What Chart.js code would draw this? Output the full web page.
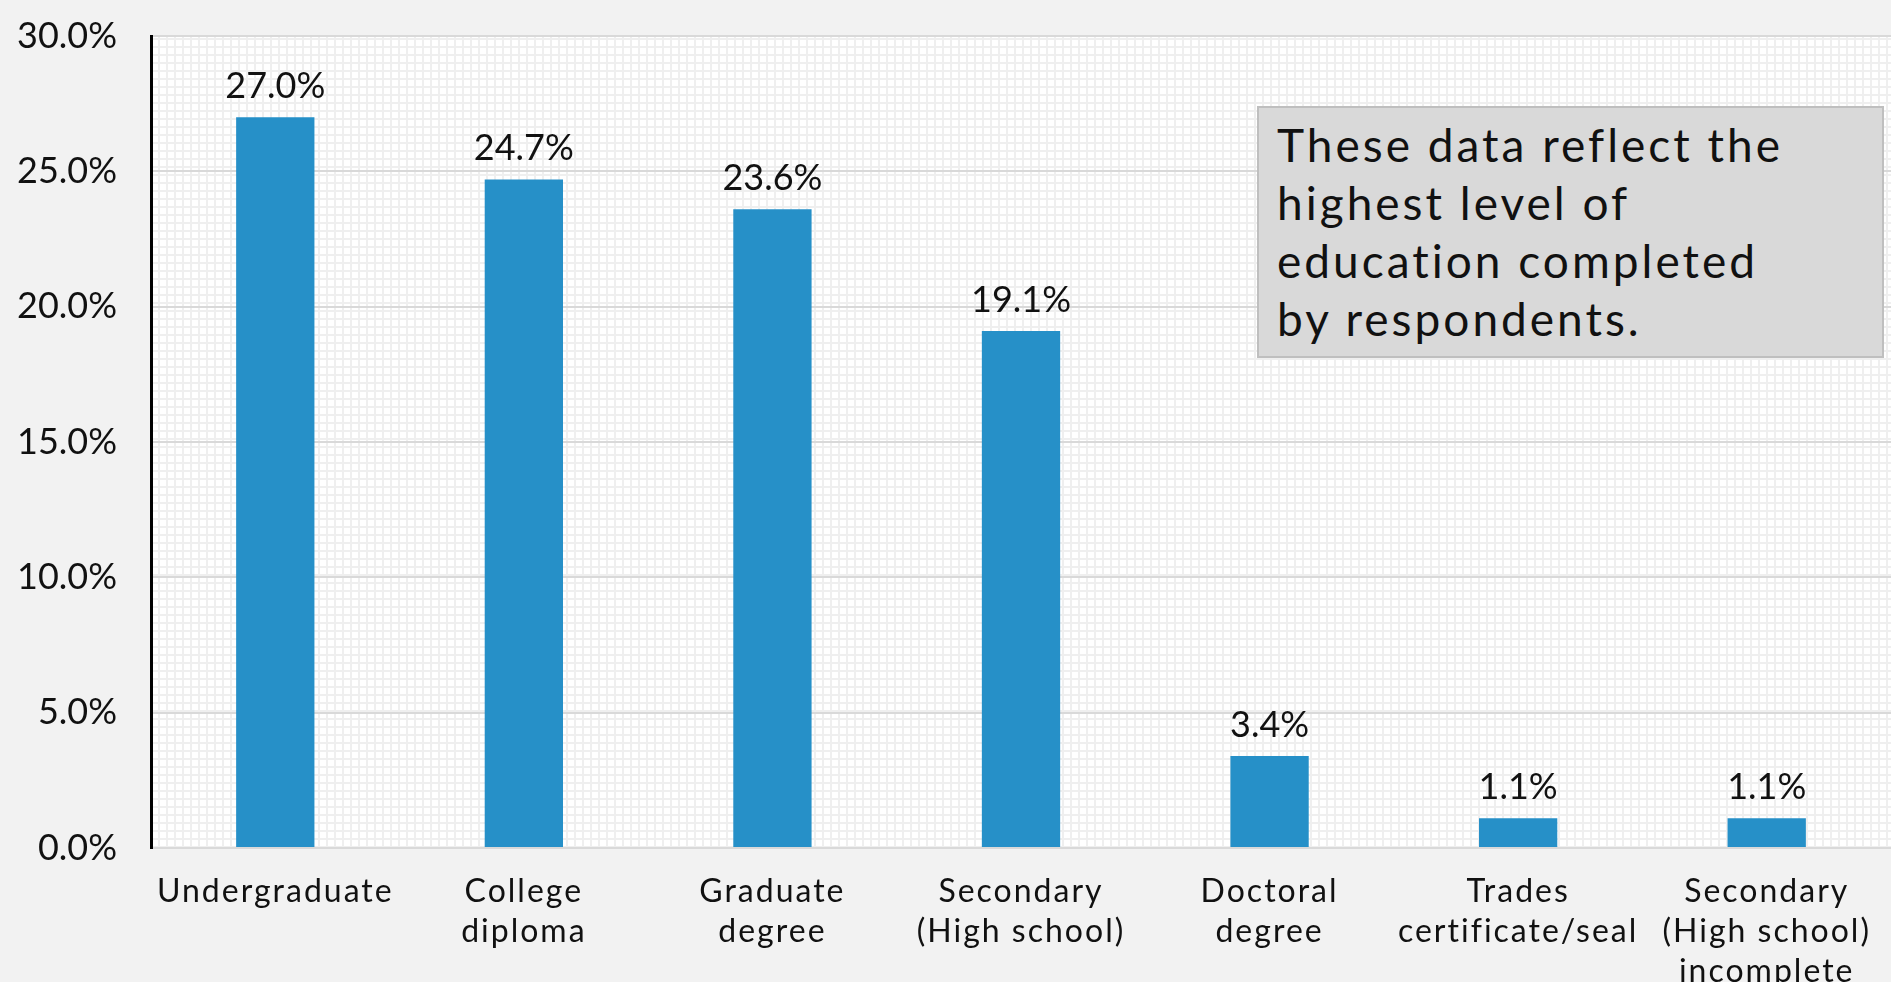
<!DOCTYPE html>
<html>
<head>
<meta charset="utf-8">
<script src="https://cdn.jsdelivr.net/npm/chart.js@4"></script>
<style>
  body { margin: 0; background: #f2f2f2; }
  #wrap { position: relative; width: 1891px; height: 982px; }
  #note {
    position: absolute; left: 1257px; top: 106px; width: 627px; height: 252px;
    box-sizing: border-box; background: #d9d9d9; border: 2px solid #bfbfbf;
    padding: 8px 0 0 18px; font-family: Lato, sans-serif; font-size: 46px;
    letter-spacing: 3px; line-height: 58px; color: #111;
  }
</style>
</head>
<body>
<div id="wrap">
  <canvas id="eduChart"></canvas>
  <div id="note">These data reflect the<br>highest level of<br>education completed<br>by respondents.</div>
</div>
<script>
var categories = [
    ["Undergraduate"],
    ["College", "diploma"],
    ["Graduate", "degree"],
    ["Secondary", "(High school)"],
    ["Doctoral", "degree"],
    ["Trades", "certificate/seal"],
    ["Secondary", "(High school)", "incomplete"]
];
var shares = [27.0, 24.7, 23.6, 19.1, 3.4, 1.1, 1.1];
var yTicks = [0, 5, 10, 15, 20, 25, 30];

// excel style small grid behind the plot
var tile = document.createElement('canvas');
tile.width = 8; tile.height = 8;
var tctx = tile.getContext('2d');
tctx.fillStyle = '#efefef';
tctx.fillRect(0, 0, 8, 8);
tctx.fillStyle = '#ffffff';
tctx.fillRect(0, 0, 6, 6);

var plotBg = {
    id: 'plotBg',
    beforeDraw: function(chart) {
        var a = chart.chartArea, c = chart.ctx;
        c.save();
        c.fillStyle = c.createPattern(tile, 'repeat');
        c.fillRect(a.left, a.top, a.right - a.left, a.bottom - a.top);
        c.restore();
    }
};

var barLabels = {
    id: 'barLabels',
    afterDatasetsDraw: function(chart) {
        var c = chart.ctx;
        c.save();
        c.font = '36px Lato';
        c.fillStyle = '#111';
        c.textAlign = 'center';
        c.textBaseline = 'alphabetic';
        chart.getDatasetMeta(0).data.forEach(function(bar, i) {
            c.fillText(shares[i].toFixed(1) + '%', bar.x, bar.y - 19);
        });
        c.restore();
    }
};

var ctx = document.getElementById('eduChart').getContext('2d');

var chart = new Chart(ctx, {
    type: 'bar',
    data: {
        labels: categories,
        datasets: [{
            data: shares,
            backgroundColor: '#2690c8',
            borderWidth: 0,
            barPercentage: 0.63,
            categoryPercentage: 0.5
        }]
    },
    options: {
        responsive: true,
        maintainAspectRatio: false,
        animation: false,
        devicePixelRatio: 1,
        layout: { padding: { top: 36, right: 0, left: 0, bottom: 0 } },
        plugins: {
            legend: { display: false },
            tooltip: { enabled: false }
        },
        scales: {
            x: {
                grid: { display: false },
                border: { display: false },
                ticks: {
                    color: '#111',
                    font: { family: 'Lato', size: 32, lineHeight: 1.25 },
                    padding: 16,
                    maxRotation: 0,
                    autoSkip: false
                },
                afterFit: function(scale) { scale.height = 134; },
                afterUpdate: function(scale) {
                    // the original font is wider, so space the letters out a little
                    scale.drawLabels = function(area) {
                        this.ctx.save();
                        this.ctx.letterSpacing = '2px';
                        Object.getPrototypeOf(this).drawLabels.call(this, area);
                        this.ctx.restore();
                    };
                }
            },
            y: {
                min: 0,
                max: 30,
                afterBuildTicks: function(scale) {
                    scale.ticks = yTicks.map(function(v) { return { value: v }; });
                },
                grid: { color: '#d9d9d9', lineWidth: 2, drawTicks: false },
                border: { color: '#000', width: 3 },
                ticks: {
                    color: '#111',
                    font: { family: 'Lato', size: 36 },
                    padding: 34,
                    callback: function(v) { return v.toFixed(1) + '%'; }
                },
                afterFit: function(scale) {
                    scale.width = 151;
                    // tick padding should only push labels sideways
                    scale.paddingTop = 0;
                    scale.paddingBottom = 0;
                }
            }
        }
    },
    plugins: [plotBg, barLabels]
});
</script>
</body>
</html>
